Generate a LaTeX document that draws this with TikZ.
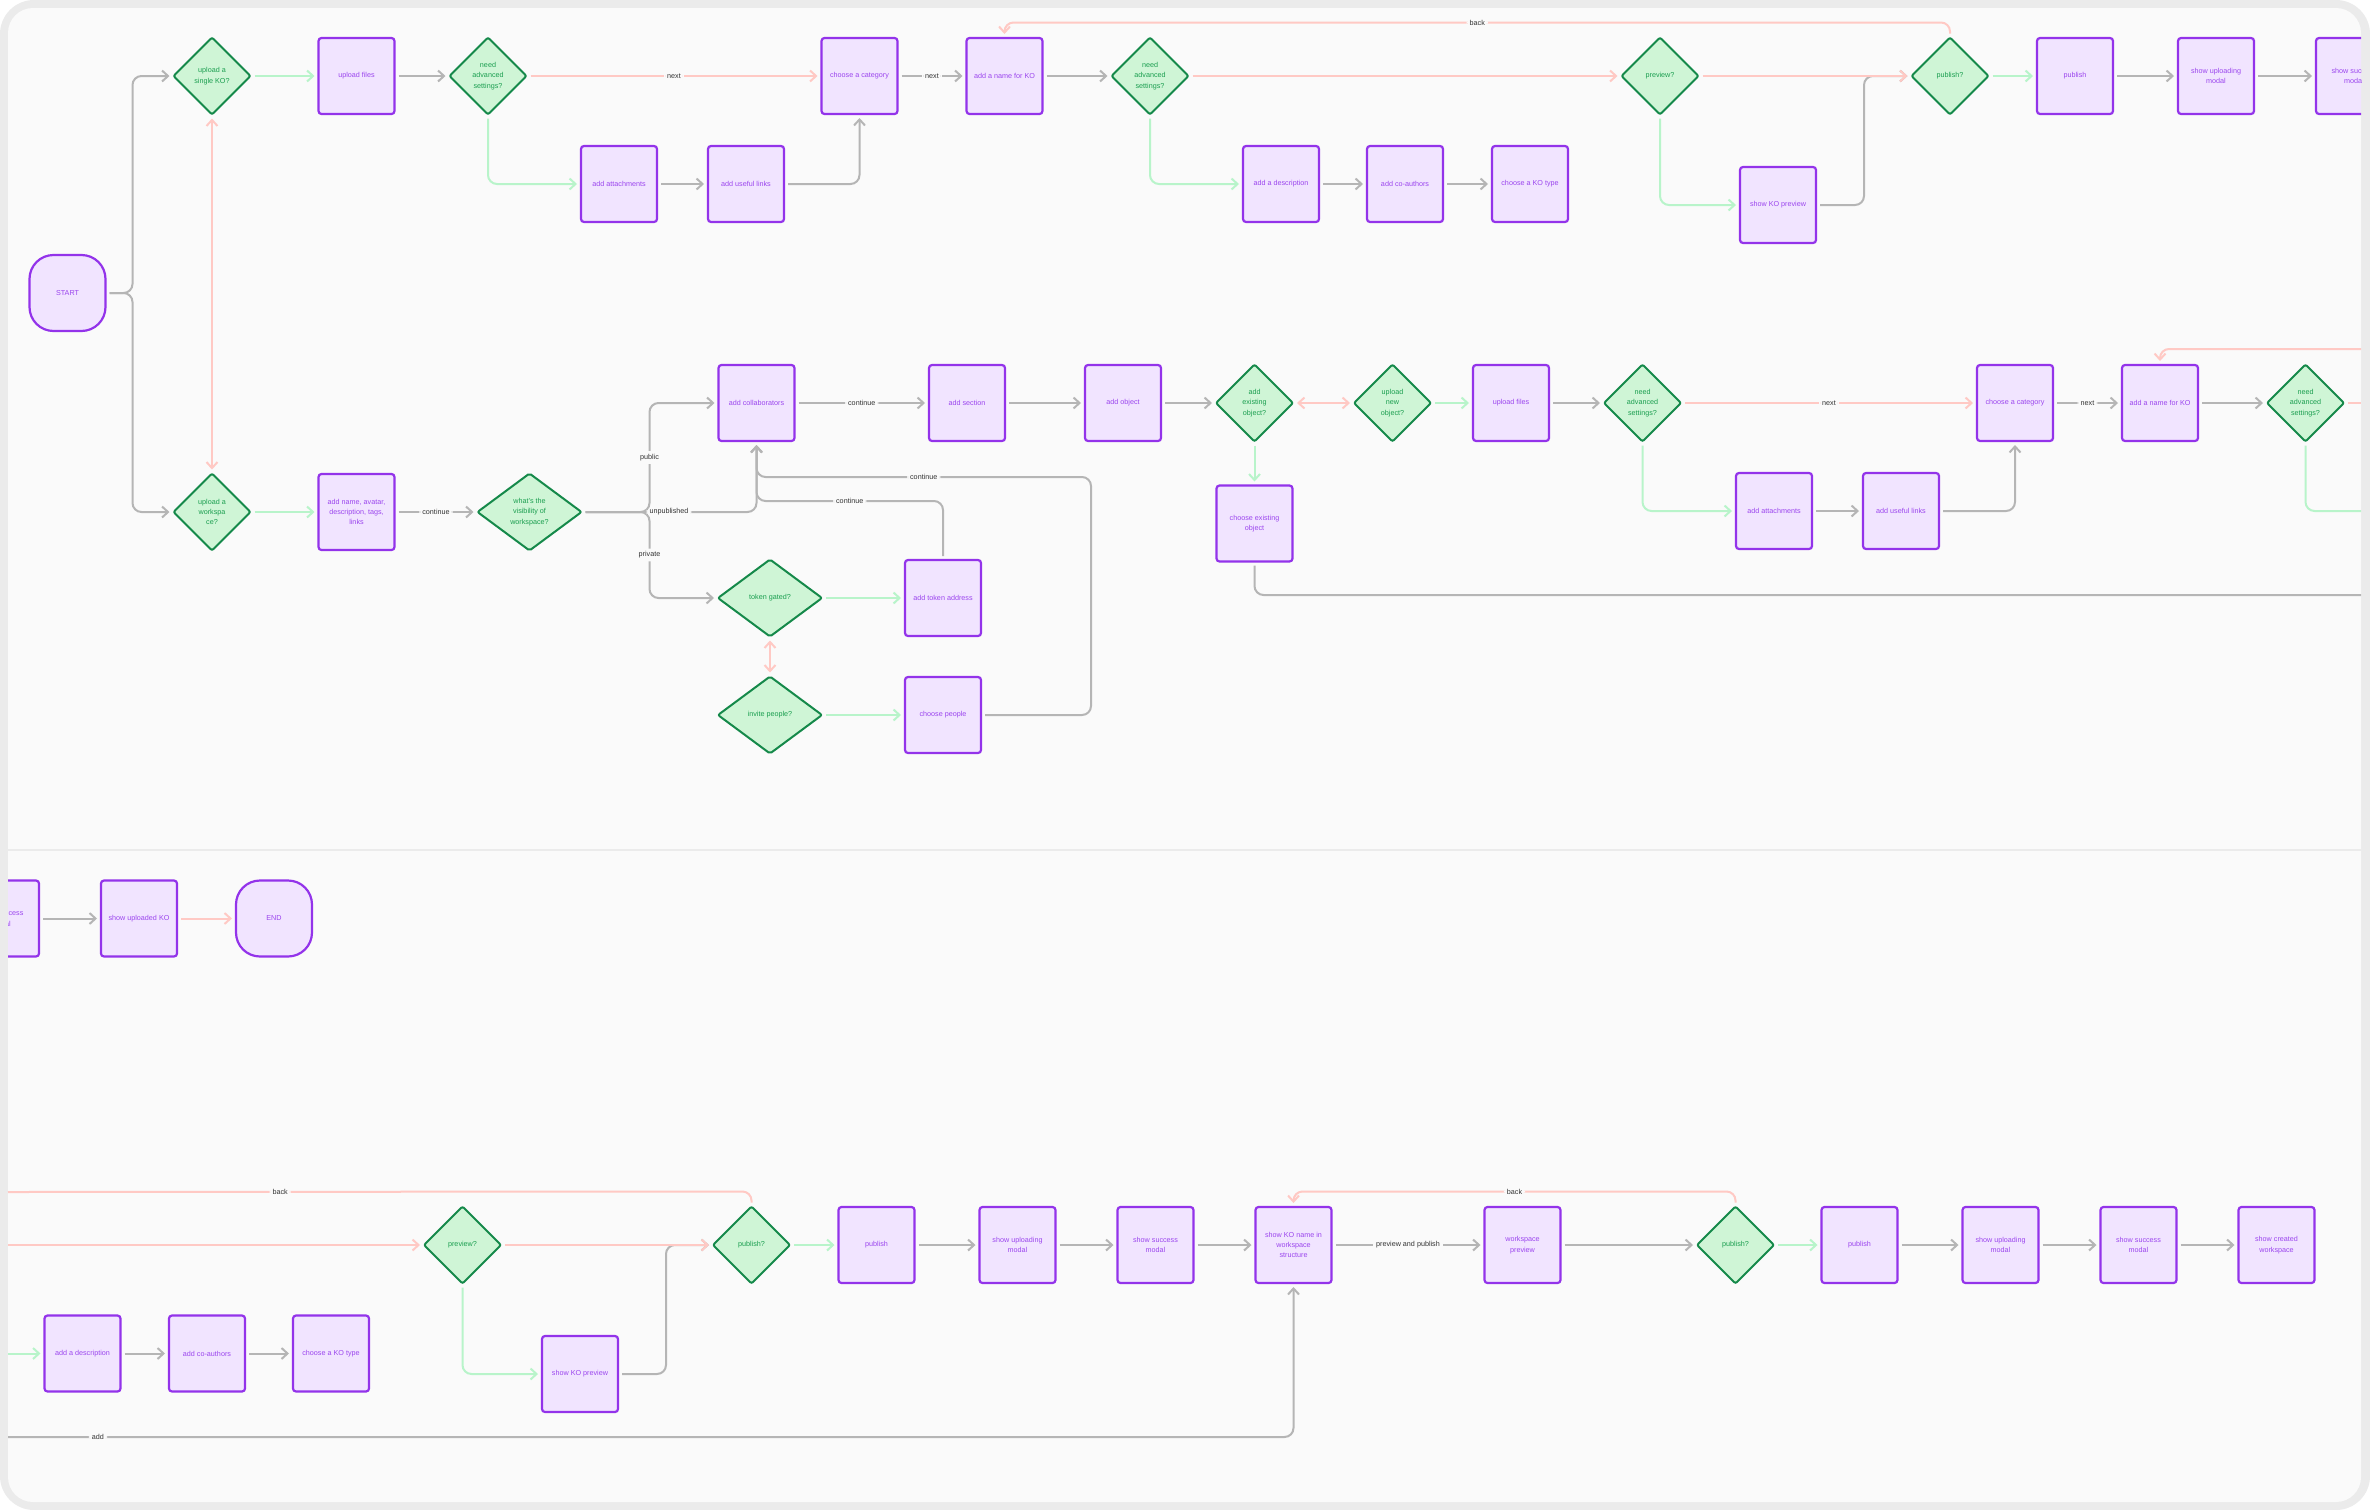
\documentclass[tikz,border=0pt]{standalone}
\usepackage{fontspec}
\setmainfont{Liberation Sans}
\usetikzlibrary{arrows.meta, positioning, shapes.geometric}

\definecolor{framegray}{HTML}{EBEBEB}
\definecolor{panelbg}{HTML}{FAFAFA}
\definecolor{boxfill}{HTML}{F1E4FF}
\definecolor{boxline}{HTML}{9333EA}
\definecolor{boxtext}{HTML}{9B45EE}
\definecolor{decfill}{HTML}{CFF5D6}
\definecolor{decline}{HTML}{15894A}
\definecolor{dectext}{HTML}{1A9E4F}
\definecolor{flowgray}{HTML}{B5B5B5}
\definecolor{flowgreen}{HTML}{B8F4CA}
\definecolor{flowpink}{HTML}{FFC9C4}
\definecolor{labeltext}{HTML}{333333}

\begin{document}
\begin{tikzpicture}[
    x=1pt, y=-1pt,
    font=\fontsize{7.2}{10.3}\selectfont,
    >={Straight Barb[length=6pt,width=11pt]},
    screen/.style={
        draw=boxline,
        fill=boxfill,
        text=boxtext,
        line width=2.2pt,
        rounded corners=3pt,
        align=center,
        minimum width=76pt,
        minimum height=76pt,
        inner sep=2pt,
        outer sep=0pt
    },
    terminal/.style={screen, rounded corners=24pt},
    choice/.style={
        diamond,
        draw=decline,
        fill=decfill,
        text=dectext,
        line width=2pt,
        rounded corners=2pt,
        align=center,
        minimum width=77pt,
        minimum height=77pt,
        inner sep=0pt,
        outer sep=0pt
    },
    widechoice/.style={choice, minimum width=104pt},
    flow/.style={line width=2pt, rounded corners=9pt, shorten <=4pt, shorten >=4pt},
    grayflow/.style={flow, draw=flowgray, ->},
    okflow/.style={flow, draw=flowgreen, ->},
    altflow/.style={flow, draw=flowpink, ->},
    altboth/.style={flow, draw=flowpink, <->},
    edgeline/.style={shorten >=0pt},
    edgestart/.style={shorten <=0pt},
    flowlabel/.style={fill=panelbg, text=labeltext, inner sep=3pt, draw=none}
]

\useasboundingbox (0,0) rectangle (2370,1510);

% ------------------------
% Frame and the two panels
% ------------------------
\fill[white] (0,0) rectangle (2370,1510);
\fill[framegray, rounded corners=34pt] (0,0) rectangle (2370,1510);
\begin{scope}
    \clip (0,0) rectangle (2370,848);
    \fill[panelbg, rounded corners=25pt] (8,8) rectangle (2361,900);
\end{scope}
\begin{scope}
    \clip (0,851) rectangle (2370,1510);
    \fill[panelbg, rounded corners=25pt] (8,800) rectangle (2361,1502);
\end{scope}

% ------------------------
% Single KO upload
% ------------------------
\node (start) [terminal] at (67.5,293) {START};
\node (upko) [choice] at (212,76) {upload a\\single KO?};
\node (upfiles) [screen, right=68pt of upko] {upload files};
\node (advone) [choice, right=55pt of upfiles] {need\\advanced\\settings?};
\node (catone) [screen, right=295pt of advone] {choose a category};
\node (nameone) [screen, right=69pt of catone] {add a name for KO};
\node (advtwo) [choice, right=69pt of nameone] {need\\advanced\\settings?};
\node (prevone) [choice, right=433pt of advtwo] {preview?};
\node (pubqone) [choice, right=213pt of prevone] {publish?};
\node (pubone) [screen, right=48.5pt of pubqone] {publish};
\node (upmodone) [screen, right=65pt of pubone] {show uploading\\modal};
\begin{scope}
    \clip (8,8) rectangle (2361,848);
    \node (succone) [screen, right=62pt of upmodone] {show success\\modal};
\end{scope}

\node (attachone) [screen] at (619,184) {add attachments};
\node (linksone) [screen, right=51pt of attachone] {add useful links};
\node (descone) [screen] at (1281,184) {add a description};
\node (coauthone) [screen, right=48pt of descone] {add co-authors};
\node (ktypeone) [screen, right=49pt of coauthone] {choose a KO type};
\node (kprevone) [screen] at (1778,205) {show KO preview};

% ------------------------
% Workspace upload
% ------------------------
\node (upws) [choice] at (212,512) {upload a\\workspa\\ce?};
\node (avatar) [screen, right=68pt of upws] {add name, avatar,\\description, tags,\\links};
\node (vis) [widechoice, right=83pt of avatar] {what's the\\visibility of\\workspace?};
\node (collab) [screen] at (756.5,403) {add collaborators};
\node (section) [screen, right=134.5pt of collab] {add section};
\node (objectn) [screen, right=80pt of section] {add object};
\node (addex) [choice, right=55pt of objectn] {add\\existing\\object?};
\node (upnew) [choice, right=61pt of addex] {upload\\new\\object?};
\node (filestwo) [screen, right=42pt of upnew] {upload files};
\node (advthree) [choice, right=55pt of filestwo] {need\\advanced\\settings?};
\node (cattwo) [screen, right=296pt of advthree] {choose a category};
\node (nametwo) [screen, right=69pt of cattwo] {add a name for KO};
\node (advfour) [choice, right=69pt of nametwo] {need\\advanced\\settings?};

\node (attachtwo) [screen] at (1774,511) {add attachments};
\node (linkstwo) [screen, right=51pt of attachtwo] {add useful links};
\node (chooseex) [screen, below=44pt of addex] {choose existing\\object};

\node (tokg) [widechoice] at (770,598) {token gated?};
\node (tokaddr) [screen, right=83pt of tokg] {add token address};
\node (invite) [widechoice, below=40pt of tokg] {invite people?};
\node (people) [screen, right=83pt of invite] {choose people};

% panel edges
\coordinate (backout) at (2361,349);
\coordinate (nextout) at (2361,403);
\coordinate (advout) at (2361,511);
\coordinate (addout) at (2361,595);
\coordinate (backin) at (8,1192);
\coordinate (nextin) at (8,1245);
\coordinate (advin) at (8,1353.5);
\coordinate (addin) at (8,1437);

% ------------------------
% Second panel
% ------------------------
\begin{scope}
    \clip (8,851) rectangle (2361,1502);
    \node (succtail) [screen] at (1,918.5) {show success\\modal};
\end{scope}
\node (uploaded) [screen, right=62pt of succtail] {show uploaded KO};
\node (endnode) [terminal, right=59pt of uploaded] {END};

\node (prevtwo) [choice] at (462.5,1245) {preview?};
\node (pubqtwo) [choice, right=212pt of prevtwo] {publish?};
\node (pubtwo) [screen, right=48.5pt of pubqtwo] {publish};
\node (upmodtwo) [screen, right=65pt of pubtwo] {show uploading\\modal};
\node (succtwo) [screen, right=62pt of upmodtwo] {show success\\modal};
\node (koname) [screen, right=62pt of succtwo] {show KO name in\\workspace\\structure};
\node (wsprev) [screen, right=153pt of koname] {workspace\\preview};
\node (pubqthree) [choice, right=136.5pt of wsprev] {publish?};
\node (pubthree) [screen, right=47.5pt of pubqthree] {publish};
\node (upmodthree) [screen, right=65pt of pubthree] {show uploading\\modal};
\node (succthree) [screen, right=62pt of upmodthree] {show success\\modal};
\node (created) [screen, right=62pt of succthree] {show created\\workspace};

\node (desctwo) [screen] at (82.5,1353.5) {add a description};
\node (coauthtwo) [screen, right=48.5pt of desctwo] {add co-authors};
\node (ktypetwo) [screen, right=48pt of coauthtwo] {choose a KO type};
\node (kprevtwo) [screen] at (580,1374) {show KO preview};

% ------------------------
% Arrows, single KO
% ------------------------
\draw[grayflow] (start.east) -- ++(27,0) |- (upko.west);
\draw[grayflow] (start.east) -- ++(27,0) |- (upws.west);
\draw[altboth] (upko) -- (upws);
\draw[okflow] (upko) -- (upfiles);
\draw[grayflow] (upfiles) -- (advone);
\draw[altflow] (advone) -- node[flowlabel]{next} (catone);
\draw[okflow] (advone.south) |- (attachone.west);
\draw[grayflow] (attachone) -- (linksone);
\draw[grayflow] (linksone.east) -| (catone.south);
\draw[grayflow] (catone) -- node[flowlabel]{next} (nameone);
\draw[grayflow] (nameone) -- (advtwo);
\draw[altflow] (advtwo) -- (prevone);
\draw[okflow] (advtwo.south) |- (descone.west);
\draw[grayflow] (descone) -- (coauthone);
\draw[grayflow] (coauthone) -- (ktypeone);
\draw[okflow] (prevone.south) |- (kprevone.west);
\draw[grayflow] (kprevone.east) -- ++(48,0) |- (pubqone.west);
\draw[altflow] (prevone) -- (pubqone);
\draw[altflow] (pubqone.north) -- ++(0,-15) -| node[flowlabel, pos=.25]{back} (nameone.north);
\draw[okflow] (pubqone) -- (pubone);
\draw[grayflow] (pubone) -- (upmodone);
\draw[grayflow] (upmodone) -- (succone);

% ------------------------
% Arrows, workspace
% ------------------------
\draw[okflow] (upws) -- (avatar);
\draw[grayflow] (avatar) -- node[flowlabel]{continue} (vis);
\draw[grayflow] (vis.east) -- ++(68,0) |- node[flowlabel, pos=.25]{public} (collab.west);
\draw[grayflow] (vis.east) -- ++(68,0) |- node[flowlabel, pos=.25]{private} (tokg.west);
\draw[grayflow] (vis.east) -| node[flowlabel, pos=.25]{unpublished} (collab.south);
\draw[altboth] (tokg) -- (invite);
\draw[okflow] (tokg) -- (tokaddr);
\draw[okflow] (invite) -- (people);
\draw[grayflow] (tokaddr.north) -- ++(0,-59) -| node[flowlabel, pos=.25]{continue} (collab.south);
\draw[grayflow] (people.east) -| ++(110,-238) -| node[flowlabel, pos=.25]{continue} (collab.south);
\draw[grayflow] (collab) -- node[flowlabel]{continue} (section);
\draw[grayflow] (section) -- (objectn);
\draw[grayflow] (objectn) -- (addex);
\draw[altboth] (addex) -- (upnew);
\draw[okflow] (addex) -- (chooseex);
\draw[okflow] (upnew) -- (filestwo);
\draw[grayflow] (filestwo) -- (advthree);
\draw[altflow] (advthree) -- node[flowlabel]{next} (cattwo);
\draw[okflow] (advthree.south) |- (attachtwo.west);
\draw[grayflow] (attachtwo) -- (linkstwo);
\draw[grayflow] (linkstwo.east) -| (cattwo.south);
\draw[grayflow] (cattwo) -- node[flowlabel]{next} (nametwo);
\draw[grayflow] (nametwo) -- (advfour);
\draw[altflow, -, edgeline] (advfour) -- (nextout);
\draw[okflow, -, edgeline] (advfour.south) |- (advout);
\draw[altflow, edgestart] (backout) -| (nametwo.north);
\draw[grayflow, -, edgeline] (chooseex.south) |- (addout);

% ------------------------
% Arrows, second panel
% ------------------------
\draw[grayflow] (succtail) -- (uploaded);
\draw[altflow] (uploaded) -- (endnode);
\draw[altflow, -, edgeline] (pubqtwo.north) -- ++(0,-15) -- node[flowlabel, pos=.634]{back} (backin);
\draw[altflow, edgestart] (nextin) -- (prevtwo.west);
\draw[okflow, edgestart] (advin) -- (desctwo.west);
\draw[grayflow] (desctwo) -- (coauthtwo);
\draw[grayflow] (coauthtwo) -- (ktypetwo);
\draw[okflow] (prevtwo.south) |- (kprevtwo.west);
\draw[grayflow] (kprevtwo.east) -- ++(48,0) |- (pubqtwo.west);
\draw[altflow] (prevtwo) -- (pubqtwo);
\draw[okflow] (pubqtwo) -- (pubtwo);
\draw[grayflow] (pubtwo) -- (upmodtwo);
\draw[grayflow] (upmodtwo) -- (succtwo);
\draw[grayflow] (succtwo) -- (koname);
\draw[grayflow] (koname) -- node[flowlabel]{preview and publish} (wsprev);
\draw[grayflow] (wsprev) -- (pubqthree);
\draw[altflow] (pubqthree.north) -- ++(0,-15) -| node[flowlabel, pos=.25]{back} (koname.north);
\draw[okflow] (pubqthree) -- (pubthree);
\draw[grayflow] (pubthree) -- (upmodthree);
\draw[grayflow] (upmodthree) -- (succthree);
\draw[grayflow] (succthree) -- (created);
\draw[grayflow, edgestart] (addin) -| node[flowlabel, pos=.035]{add} (koname.south);

\end{tikzpicture}
\end{document}
